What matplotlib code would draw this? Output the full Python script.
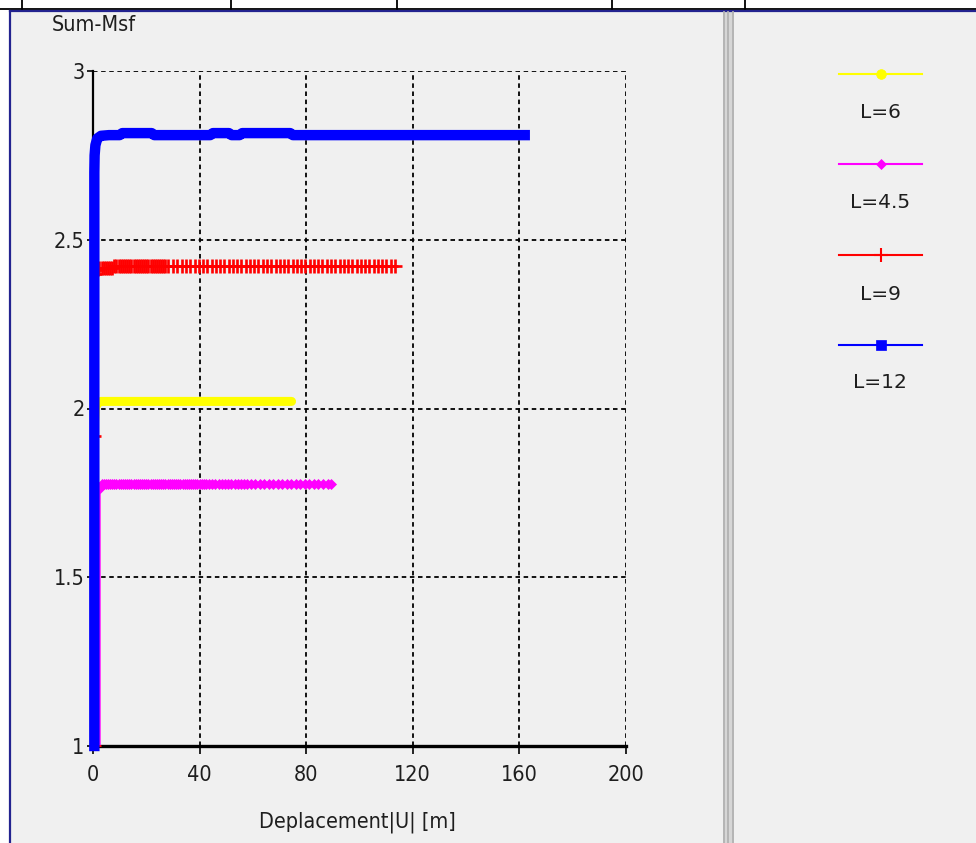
import os
import matplotlib
matplotlib.use("Agg")
import matplotlib.pyplot as plt
from matplotlib import font_manager as fm
from matplotlib.patches import Rectangle

W, H = 976, 843
BG = "#f0f0f0"
TXT = "#1e1e1e"

# ---- data ----
series_labels = ["L=6", "L=4.5", "L=9", "L=12"]
series_colors = ["#ffff00", "#ff00ff", "#ff0000", "#0000ff"]
series_markers = ["o", "D", "+", "s"]

x_ticks = [0, 40, 80, 120, 160, 200]
y_ticks = [1, 1.5, 2, 2.5, 3]
y_tick_labels = ["1", "1.5", "2", "2.5", "3"]
x_title = "Deplacement|U| [m]"
y_title = "Sum-Msf"

# L=6 (yellow) - points so dense they merge into one bar
l6_x = [0.5, 0.5, 0.5, 0.6, 0.9, 1.6, 3.0, 8.0, 20.0, 35.0, 50.0, 65.0, 74.5]
l6_y = [1.00, 1.50, 1.87, 1.96, 2.00, 2.015, 2.021, 2.021, 2.021, 2.021, 2.021, 2.021, 2.021]

# L=4.5 (magenta)
l45_x = [2.5, 2.5,
         3.2, 4.0, 4.8, 5.6, 6.4, 7.2, 8.0, 8.8, 9.6, 10.4, 11.2, 12.0, 12.8, 13.6,
         14.4, 15.2, 16.0, 16.8, 17.6, 18.4, 19.2, 20.0, 20.8, 21.6, 22.4, 23.2, 24.0, 24.8,
         25.6, 26.4, 27.2, 28.0, 28.8, 29.6, 30.4, 31.2, 32.0, 32.8, 33.6, 34.4, 35.2, 36.0,
         36.8, 37.6, 38.4, 39.2, 40.0, 40.8, 41.6, 42.4,
         43.5, 44.7, 45.9, 47.1, 48.3, 49.5, 50.7, 51.9, 53.1, 54.3, 55.5, 56.7, 57.9, 59.1,
         60.8, 62.5, 64.2, 65.9, 67.6, 69.3, 71.0, 72.7, 74.4, 76.1, 77.8, 79.5, 81.2, 82.9,
         84.6, 86.3, 88.0, 89.4]
l45_y = [1.00, 1.765] + [1.775] * 82

# L=9 (red)
l9_x = [0.5, 0.5, 0.7, 1.2, 1.8,
        2.4, 3.2, 4.0, 4.8, 5.6, 6.4, 7.2, 8.0, 8.8, 9.6, 10.4, 11.2, 12.0, 12.8, 13.6,
        14.4, 15.2, 16.0, 16.8, 17.6, 18.4, 19.2, 20.0, 20.8, 21.6, 22.4, 23.2, 24.0, 24.8,
        25.6, 26.4, 27.2, 28.0,
        30.1, 31.7, 33.3, 34.9, 36.5, 38.1, 39.7, 41.3, 42.9, 44.5, 46.1, 47.7, 49.3, 50.9,
        52.5, 54.1, 55.7, 57.3, 58.9, 60.5, 62.1, 63.7, 65.3, 66.9, 68.5, 70.1, 71.7, 73.3,
        74.9, 76.5, 78.1, 79.7, 81.3, 82.9, 84.5, 86.1, 87.7, 89.3, 90.9, 92.5, 94.1, 95.7,
        97.3, 98.9, 100.5, 102.1, 103.7, 105.3, 106.9, 108.5, 110.1, 111.7, 113.3]
l9_y = [1.00, 1.92, 2.40, 2.41, 2.414] + [2.416] * 7 + [2.422] * 79

# L=12 (blue)
l12_x = [0.5, 0.5, 0.5, 0.6, 0.9, 1.6, 3.0, 6.0, 10.0, 11.0, 22.0, 23.0, 44.0, 45.0,
         51.0, 52.0, 55.0, 56.0, 74.0, 75.0, 120.0, 162.0]
l12_y = [1.00, 2.00, 2.70, 2.75, 2.78, 2.80, 2.808, 2.810, 2.810, 2.816, 2.816, 2.810,
         2.810, 2.816, 2.816, 2.810, 2.810, 2.816, 2.816, 2.810, 2.810, 2.810]


def narrow_font():
    """reference uses a narrow sans (Arial Narrow like) for the axis texts"""
    pref = ["liberationsansnarrow-regular", "dejavusanscondensed.", "notosans-condensed.",
            "robotocondensed-regular", "roboto_condensed-regular", "opensans-condensedregular",
            "opensans_condensed-regular", "lato-regular"]
    files = [f.fname for f in fm.fontManager.ttflist]
    for p in pref:
        for f in files:
            if os.path.basename(f).lower().startswith(p):
                return f, p
    return None, None


fpath, fkind = narrow_font()
if fkind and "narrow" in fkind:
    tick_size, title_size = 17, 18
elif fkind and "condensed" in fkind:
    tick_size, title_size = 15.5, 15.5
else:
    tick_size, title_size = 14, 14


def axis_font(size):
    if fpath:
        return fm.FontProperties(fname=fpath, size=size)
    return fm.FontProperties(family="DejaVu Sans", size=size)


def px_box(left, top, right, bottom):
    """pixel box (from top-left) -> figure fraction [l, b, w, h]"""
    return [left / W, 1 - bottom / H, (right - left) / W, (bottom - top) / H]


fig = plt.figure(figsize=(W / 100, H / 100), dpi=100, facecolor=BG)

ax = fig.add_axes(px_box(93, 71, 626, 746))
ax.set_facecolor(BG)
ax.set_xlim(0, 200)
ax.set_ylim(1, 3)
ax.set_xticks(x_ticks)
ax.set_yticks(y_ticks)
ax.set_yticklabels(y_tick_labels)
ax.set_axisbelow(True)
ax.grid(True, color="black", linestyle=(0, (2.5, 2.0)), linewidth=1.3)
ax.spines["top"].set_visible(False)
ax.spines["right"].set_visible(False)
ax.spines["left"].set_linewidth(1.6)
ax.spines["bottom"].set_linewidth(2.4)
ax.tick_params(axis="x", length=6, width=1.2, pad=8, labelcolor=TXT)
ax.tick_params(axis="y", length=4, width=1.2, pad=2, labelcolor=TXT)
for lab in ax.get_xticklabels() + ax.get_yticklabels():
    lab.set_fontproperties(axis_font(tick_size))

# curves
ax.plot(l6_x, l6_y, color=series_colors[0], lw=6.5,
        solid_capstyle="round", solid_joinstyle="round", zorder=3)
ax.plot(l45_x, l45_y, color=series_colors[1], lw=1.5, marker="D", ms=5.0, mew=0.5,
        markevery=list(range(1, len(l45_x))), zorder=3)
ax.plot(l9_x, l9_y, color=series_colors[2], lw=1.5, marker="+", ms=10, mew=1.9, zorder=3)
ax.plot(l12_x, l12_y, color=series_colors[3], lw=7.5, solid_capstyle="projecting",
        solid_joinstyle="round", clip_on=False, zorder=4)

fig.text(52 / W, 1 - 25 / H, y_title, ha="left", va="center",
         fontproperties=axis_font(title_size), color=TXT)
fig.text(357 / W, 1 - 822 / H, x_title, ha="center", va="center",
         fontproperties=axis_font(title_size), color=TXT)

# overlay in pixel coords: window frame + legend
ov = fig.add_axes([0, 0, 1, 1])
ov.set_xlim(0, W)
ov.set_ylim(H, 0)
ov.axis("off")

ov.add_patch(Rectangle((0, 0), W, 8.5, color="white", lw=0))
ov.add_patch(Rectangle((0, 0), 9, H, color="white", lw=0))
ov.plot([0, W], [9, 9], color="black", lw=1.3)
for xv in [22, 231, 397, 612, 745]:
    ov.plot([xv, xv], [0, 9], color="black", lw=1.3)
ov.plot([9.5, W], [11, 11], color="#23238f", lw=1.6)
ov.plot([9.5, 9.5], [11, H], color="#23238f", lw=1.6)

ov.add_patch(Rectangle((722.5, 12), 11.5, H, color="#d6d6d6", lw=0))
for xv in [723.8, 728.2, 732.6]:
    ov.plot([xv, xv], [12, H], color="#b2b2b2", lw=1.3)

leg_line_y = [74, 164, 255, 345]
leg_text_y = [113, 203, 294, 383]
leg_ms = [7, 5, 10, 7]
for i, lab in enumerate(series_labels):
    c = series_colors[i]
    ov.plot([839, 922], [leg_line_y[i]] * 2, color=c, lw=1.5)
    ov.plot([880.5], [leg_line_y[i]], marker=series_markers[i], ms=leg_ms[i], color=c,
            mew=1.5 if series_markers[i] == "+" else 0.5)
    ov.text(880, leg_text_y[i], lab, ha="center", va="center", fontsize=14.5, color=TXT)

fig.savefig("out.png", dpi=100, facecolor=BG)
